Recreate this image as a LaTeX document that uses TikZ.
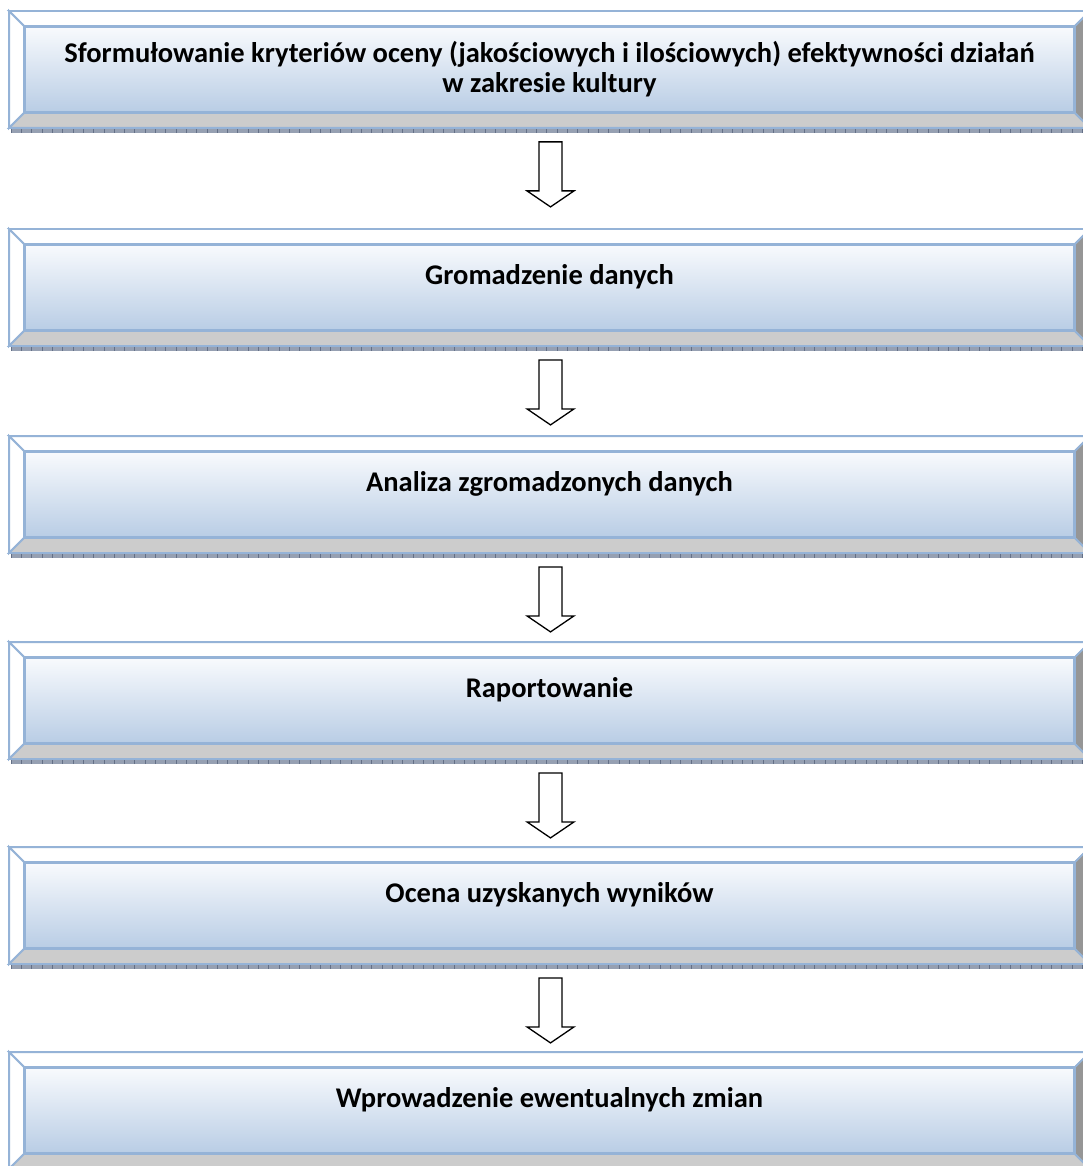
\documentclass[tikz,border=0pt]{standalone}
\usepackage{fontspec}
\setmainfont{Carlito}
\usetikzlibrary{calc,backgrounds}
\definecolor{bevelblue}{RGB}{149,179,215}
\definecolor{facetop}{RGB}{248,250,253}
\definecolor{facebot}{RGB}{185,205,229}
\definecolor{sidegray}{RGB}{204,204,204}
\definecolor{rightgray}{RGB}{150,150,150}
\definecolor{stripblue}{RGB}{150,160,178}
\definecolor{stripdark}{RGB}{100,112,135}

\tikzset{
  stepbox/.style={minimum width=1049pt, minimum height=85pt, inner sep=0pt, align=center,
    font=\fontsize{28.5}{30}\selectfont\bfseries, top color=facetop, bottom color=facebot,
    draw=bevelblue, line width=1.8pt},
  oneline/.style={text height=20pt, text depth=26pt},
  bevel/.style={draw=bevelblue, line width=1.8pt, line join=miter},
  blockarrow/.style={draw=black, fill=white, line width=1.3pt, line join=miter}
}

\begin{document}
\begin{tikzpicture}[x=1pt,y=-1pt]
\useasboundingbox (0,0) rectangle (1082,1166);

\node[stepbox] (b1) at (549.5,69.5) {Sformułowanie kryteriów oceny (jakościowych i ilościowych) efektywności działań\\w zakresie kultury};
\node[stepbox,oneline] (b2) at (549.5,287.5) {Gromadzenie danych};
\node[stepbox,oneline] (b3) at (549.5,494.5) {Analiza zgromadzonych danych};
\node[stepbox,oneline] (b4) at (549.5,700.5) {Raportowanie};
\node[stepbox,oneline] (b5) at (549.5,905.5) {Ocena uzyskanych wyników};
\node[stepbox,oneline] (b6) at (549.5,1110.5) {Wprowadzenie ewentualnych zmian};

% bevel faces and strip
\begin{scope}[on background layer]
\foreach \i in {1,...,6} {
  \coordinate (nw) at (b\i.north west);
  \coordinate (ne) at (b\i.north east);
  \coordinate (sw) at (b\i.south west);
  \coordinate (se) at (b\i.south east);
  \fill[stripblue] ($(sw)+(-13,16)$) rectangle ($(se)+(15,20)$);
  \foreach \k in {0,...,104}
    \draw[stripdark, line width=0.5pt] ($(sw)+(-13+10.3*\k,16)$) -- ++(0,4);
  \filldraw[bevel, fill=white] ($(nw)+(-15,-15)$) -- ($(ne)+(15,-15)$) -- (ne) -- (nw) -- cycle;
  \filldraw[bevel, fill=white] ($(nw)+(-15,-15)$) -- (nw) -- (sw) -- ($(sw)+(-15,15)$) -- cycle;
  \filldraw[bevel, fill=sidegray] ($(sw)+(-15,15)$) -- (sw) -- (se) -- ($(se)+(15,15)$) -- cycle;
  \filldraw[bevel, fill=rightgray] ($(ne)+(15,-15)$) -- (ne) -- (se) -- ($(se)+(15,15)$) -- cycle;
}
\end{scope}

% arrows between steps
\foreach \i in {1,...,5}
  \draw[blockarrow] ($(b\i.south)+(-10.5,29)$) -- ++(0,49) -- ++(-12,0) -- ++(23.5,16)
    -- ++(23.5,-16) -- ++(-12,0) -- ++(0,-49) -- cycle;
\end{tikzpicture}
\end{document}
